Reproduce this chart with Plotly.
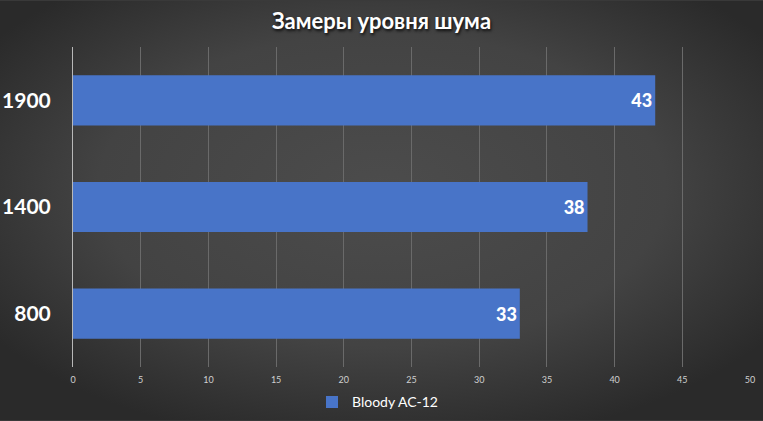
import base64
import plotly.graph_objects as go

categories = ["800", "1400", "1900"]
values = [33, 38, 43]
series_name = "Bloody AC-12"
x_ticks = [0, 5, 10, 15, 20, 25, 30, 35, 40, 45, 50]
title_text = "Замеры уровня шума"

W, H = 763, 421
ML, MR, MT, MB = 73, 13, 46.5, 53.5
PW, PH = W - ML - MR, H - MT - MB

svg = f'''<svg xmlns="http://www.w3.org/2000/svg" width="{W}" height="{H}" viewBox="0 0 {W} {H}" preserveAspectRatio="none">
<defs>
<radialGradient id="g" cx="0.5" cy="0.45" r="0.62" gradientUnits="objectBoundingBox">
<stop offset="0" stop-color="#4c4c4c"/>
<stop offset="0.6" stop-color="#434343"/>
<stop offset="1" stop-color="#2a2a2a"/>
</radialGradient>
</defs>
<rect width="{W}" height="{H}" fill="url(#g)"/>
</svg>'''
src = "data:image/svg+xml;base64," + base64.b64encode(svg.encode()).decode()

fig = go.Figure()
fig.add_trace(go.Bar(
    x=values, y=categories, orientation="h", name=series_name,
    marker=dict(color="#4874C8", line=dict(width=0)),
    width=0.47,
    text=[str(v) for v in values], textposition="inside", insidetextanchor="end",
    textfont=dict(family="Lato", size=18, color="white", weight=900),
    showlegend=True,
))

fig.update_layout(
    width=W, height=H,
    margin=dict(l=ML, r=MR, t=MT, b=MB, autoexpand=False),
    paper_bgcolor="#3a3a3a",
    plot_bgcolor="rgba(0,0,0,0)",
    images=[dict(source=src, xref="paper", yref="paper",
                 x=-ML / PW, y=1 + MT / PH, sizex=W / PW, sizey=H / PH,
                 xanchor="left", yanchor="top", sizing="stretch", layer="below")],
    title=dict(text=title_text, x=0.5, xanchor="center", y=1 - 21 / H, yanchor="middle",
               font=dict(family="Lato", size=22, color="white", weight="bold",
                         shadow="1px 2px 3px rgba(0,0,0,0.8)")),
    xaxis=dict(range=[0, 50], tickvals=x_ticks, showgrid=True, gridcolor="#6a6a6a", gridwidth=1,
               zeroline=False, showline=False,
               ticks="", ticklabelstandoff=6,
               tickfont=dict(family="Lato", size=9, color="#d0d0d0")),
    yaxis=dict(type="category", categoryorder="array", categoryarray=categories,
               range=[-0.5, 2.5], showgrid=False, zeroline=False,
               showline=True, linecolor="#b8b8b8", linewidth=1,
               ticks="", ticklabelstandoff=17,
               tickfont=dict(family="Lato", size=21, color="white", weight="bold")),
    legend=dict(orientation="h", x=0.5 - 34 / PW, xanchor="center",
                y=-(403 - MT - PH) / PH, yanchor="middle",
                font=dict(family="Lato", size=14, color="white"),
                bgcolor="rgba(0,0,0,0)", itemwidth=30),
)

fig.write_html("out.html")
